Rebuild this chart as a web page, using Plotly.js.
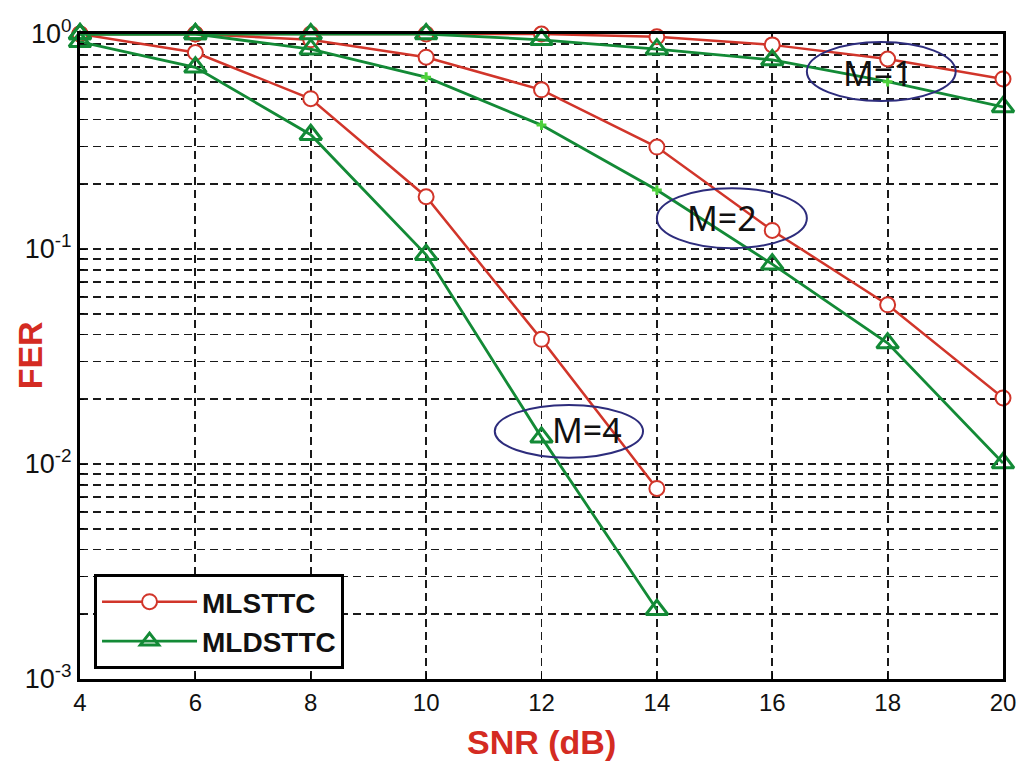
<!DOCTYPE html>
<html>
<head>
<meta charset="utf-8">
<script src="https://cdn.plot.ly/plotly-3.0.1.min.js"></script>
<style>html,body{margin:0;padding:0;background:#fff;}#chart{width:1023px;height:764px;}</style>
</head>
<body>
<div id="chart"></div>
<script>
// SNR values (dB)
const snr = [4, 6, 8, 10, 12, 14, 16, 18, 20];
const snrM4 = [4, 6, 8, 10, 12, 14];

// MLSTTC FER
const mlsttcM1 = [1.0, 1.0, 1.0, 1.0, 1.0, 0.97, 0.89, 0.765, 0.618];
const mlsttcM2 = [1.0, 1.0, 0.94, 0.78, 0.55, 0.298, 0.122, 0.055, 0.0203];
const mlsttcM4 = [1.0, 0.82, 0.50, 0.175, 0.038, 0.0077];

// MLDSTTC FER
const mldsttcM1 = [1.0, 1.0, 1.0, 1.0, 0.94, 0.85, 0.757, 0.60, 0.458];
const mldsttcM2 = [1.0, 1.0, 0.85, 0.63, 0.377, 0.188, 0.085, 0.0365, 0.0101];
const mldsttcM4 = [0.92, 0.70, 0.34, 0.094, 0.0133, 0.0021];

const seriesNames = ['MLSTTC', 'MLDSTTC'];
const xTicks = [4, 6, 8, 10, 12, 14, 16, 18, 20];
const yTicks = [1, 0.1, 0.01, 0.001];
const yTickText = ['10<sup>0</sup>', '10<sup>-1</sup>', '10<sup>-2</sup>', '10<sup>-3</sup>'];
const mLabels = ['M=1', 'M=2', 'M=4'];

const RED = '#d1352a';
const GREEN = '#138a36';
const LIGHTGREEN = '#4cd13a';

function redTrace(x, y, show) {
  return {
    x: x, y: y, type: 'scatter', mode: 'lines+markers',
    name: seriesNames[0], legendgroup: 'a', showlegend: show,
    line: {color: RED, width: 2.5},
    marker: {symbol: 'circle', size: 15, color: '#ffffff', opacity: 1, line: {color: RED, width: 2}},
    cliponaxis: false
  };
}
function greenTrace(x, y, show, plainIdx) {
  const isPlain = x.map((v, i) => plainIdx.indexOf(i) >= 0);
  return {
    x: x, y: y, type: 'scatter', mode: 'lines+markers',
    name: seriesNames[1], legendgroup: 'b', showlegend: show,
    line: {color: GREEN, width: 2.8},
    marker: {
      symbol: isPlain.map(p => p ? 'cross-thin-open' : 'triangle-up-open'),
      size: isPlain.map(p => p ? 7 : 19),
      color: isPlain.map(p => p ? LIGHTGREEN : GREEN),
      opacity: 1, line: {width: 3}
    },
    cliponaxis: false
  };
}

const data = [
  redTrace(snr, mlsttcM1, true),
  redTrace(snr, mlsttcM2, false),
  redTrace(snrM4, mlsttcM4, false),
  greenTrace(snr, mldsttcM1, true, [7]),
  greenTrace(snr, mldsttcM2, false, [3, 4, 5]),
  greenTrace(snrM4, mldsttcM4, false, [])
];

const minorVals = [];
for (let e = -3; e < 0; e++) {
  for (let m = 2; m <= 9; m++) minorVals.push(m * Math.pow(10, e));
}

const gridStyle = {gridcolor: '#1a1a1a', gridwidth: 1.8, griddash: '8px,5px'};

const ellipseColor = '#2d2c7c';
function ellipse(x0, x1, y0, y1) {
  return {type: 'circle', xref: 'x', yref: 'paper', x0: x0, x1: x1, y0: y0, y1: y1,
    line: {color: ellipseColor, width: 2}, fillcolor: 'rgba(0,0,0,0)', layer: 'above'};
}
function mText(txt, x, y) {
  return {text: txt, xref: 'x', yref: 'paper', x: x, y: y, showarrow: false,
    font: {family: 'Noto Sans, Open Sans, sans-serif', size: 34, color: '#111'},
    xanchor: 'center', yanchor: 'middle'};
}

const layout = {
  width: 1023, height: 764,
  margin: {l: 80, r: 20, t: 34, b: 85},
  paper_bgcolor: 'white', plot_bgcolor: 'white',
  showlegend: true,
  font: {family: 'Liberation Sans, Arial, sans-serif', color: '#111'},
  xaxis: Object.assign({
    type: 'linear', range: [4, 20],
    tickmode: 'array', tickvals: xTicks, ticktext: xTicks.map(String),
    showgrid: true, zeroline: false,
    showline: true, mirror: true, linecolor: '#000', linewidth: 3,
    ticks: 'inside', ticklen: 6, tickcolor: '#000', tickwidth: 1,
    tickfont: {size: 24, color: '#111', family: 'Liberation Sans Narrow, Liberation Sans, Arial, sans-serif'}
  }, gridStyle),
  yaxis: Object.assign({
    type: 'log', range: [-3, 0],
    tickmode: 'array', tickvals: yTicks, ticktext: yTickText,
    showgrid: true, zeroline: false,
    showline: true, mirror: true, linecolor: '#000', linewidth: 3,
    ticks: 'inside', ticklen: 6, tickcolor: '#000', tickwidth: 1,
    tickfont: {size: 27, color: '#111'},
    minor: Object.assign({tickvals: minorVals, showgrid: true, ticks: 'inside', ticklen: 4, tickcolor: '#000'}, gridStyle)
  }, gridStyle),
  legend: {
    x: 0.0152, y: 0.0155, xanchor: 'left', yanchor: 'bottom',
    bgcolor: 'white', bordercolor: '#000', borderwidth: 3,
    font: {size: 28, color: '#111', family: 'Liberation Sans, Arial, sans-serif', weight: 'bold'},
    itemwidth: 95, tracegroupgap: 0
  },
  shapes: [
    ellipse(16.6, 19.18, 0.896, 0.9876),
    ellipse(14.0, 16.6, 0.668, 0.761),
    ellipse(11.19, 13.76, 0.343, 0.425)
  ],
  annotations: [
    mText(mLabels[0], 17.83, 0.9395),
    mText(mLabels[1], 15.13, 0.715),
    mText(mLabels[2], 12.79, 0.386),
    {text: '<b>SNR (dB)</b>', xref: 'paper', yref: 'paper', x: 0.5, y: -0.098,
     xanchor: 'center', yanchor: 'middle', showarrow: false,
     font: {size: 34, color: '#d42b22', family: 'Liberation Sans, Arial, sans-serif'}},
    {text: '<b>FER</b>', xref: 'paper', yref: 'paper', x: -0.054, y: 0.502,
     xanchor: 'center', yanchor: 'middle', showarrow: false, textangle: -90,
     font: {size: 34, color: '#d42b22', family: 'Liberation Sans, Arial, sans-serif'}}
  ]
};

Plotly.newPlot('chart', data, layout, {displayModeBar: false, staticPlot: true});
</script>
</body>
</html>
